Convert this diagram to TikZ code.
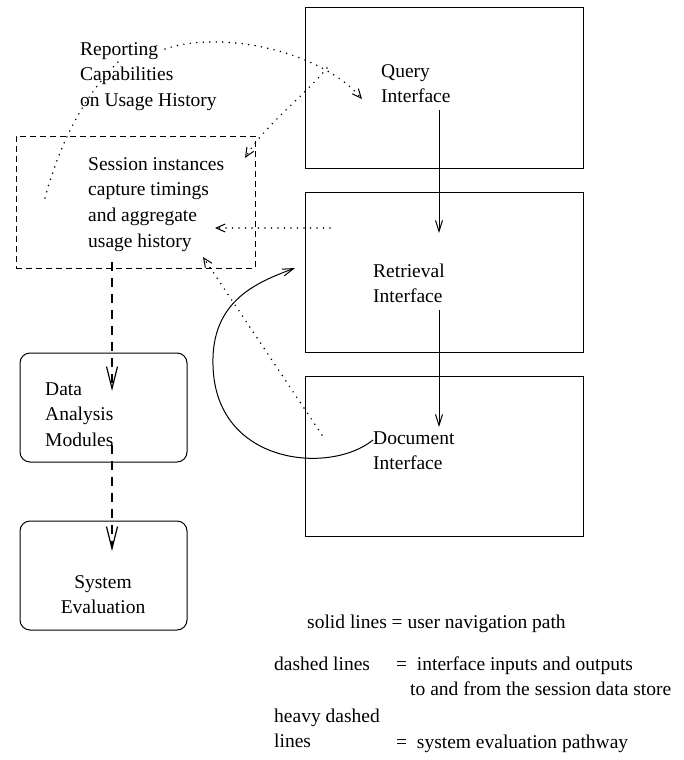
\documentclass[tikz,border=0pt]{standalone}
\usepackage{fontspec}
\setmainfont{Liberation Serif}
\usetikzlibrary{arrows.meta}
\newcommand{\fstrut}{\rule{0pt}{14pt}}
\tikzset{
  box/.style={draw, line width=1pt, inner sep=0pt},
  rbox/.style={draw, line width=1pt, rounded corners=10pt, inner sep=0pt},
  sbox/.style={draw, line width=1pt, dash pattern=on 6pt off 4pt, inner sep=0pt},
  txt/.style={inner sep=0pt, align=left, anchor=north west, font=\fontsize{19.5}{25.7}\selectfont},
  ctxt/.style={inner sep=0pt, align=center, anchor=north, font=\fontsize{19.5}{25.7}\selectfont},
  nav/.style={line width=1pt, -{Straight Barb[length=11pt,width=7pt,line width=1pt]}},
  dotline/.style={line width=1.7pt, dash pattern=on 0pt off 6.5pt, line cap=round},
  dotarrow/.style={dotline, -{Straight Barb[length=9pt,width=8pt,line width=1pt]}},
  heavy/.style={line width=1.4pt, dash pattern=on 9pt off 7pt, -{Straight Barb[length=22pt,width=11pt,line width=1.2pt]}}
}
\begin{document}
\begin{tikzpicture}[x=1pt,y=-1pt]
\useasboundingbox (0,0) rectangle (683,760);
% boxes
\node[box, minimum width=278pt, minimum height=160pt] (query) at (444,88) {};
\node[box, minimum width=278pt, minimum height=160pt] (retr) at (444,272) {};
\node[box, minimum width=278pt, minimum height=160pt] (doc) at (444,456) {};
\node[sbox, minimum width=239pt, minimum height=132pt] (session) at (135.5,202) {};
\node[rbox, minimum width=167pt, minimum height=109pt] (dam) at (103.5,407.5) {};
\node[rbox, minimum width=167pt, minimum height=109pt] (syseval) at (103.5,575.5) {};
% texts
\node[txt] (report) at (80,41) {\fstrut Reporting\\Capabilities\\on Usage History};
\node[txt] (stext) at (88,156) {\fstrut Session instances\\capture timings\\and aggregate\\usage history};
\node[txt] (qtext) at (381,63) {\fstrut Query\\Interface};
\node[txt] (rtext) at (373,263) {\fstrut Retrieval\\Interface};
\node[txt] (dtext) at (373,430) {\fstrut Document\\Interface};
\node[txt] (damtext) at (45,381) {\fstrut Data\\Analysis\\Modules};
\node[ctxt] (setext) at (103,574) {\fstrut System\\Evaluation};
% legend
\node[txt] (leg1) at (307,614) {\fstrut solid lines = user navigation path};
\node[txt] (leg2a) at (274,656) {\fstrut dashed lines};
\node[txt] (leg2b) at (396,656) {\fstrut =\ \ interface inputs and outputs};
\node[txt] (leg2c) at (410,681) {\fstrut to and from the session data store};
\node[txt] (leg3a) at (274,708) {\fstrut heavy dashed\\lines};
\node[txt] (leg3b) at (396,734) {\fstrut =\ \ system evaluation pathway};
% coordinates for free ends
\coordinate (n1s) at (439,110);
\coordinate (n1e) at (439,233);
\coordinate (n2s) at (439,310);
\coordinate (n2e) at (439,427);
\coordinate (cs) at (373,440);
\coordinate (cm) at (213,365);
\coordinate (ce) at (295,268);
\coordinate (rq) at (165,49);
\coordinate (qa) at (362,99);
\coordinate (qs) at (327,68);
\coordinate (sa) at (245,158);
\coordinate (rs1) at (45,198);
\coordinate (rs2) at (118,62);
\coordinate (rts) at (330,228);
\coordinate (rta) at (215,228);
\coordinate (dts) at (322,435);
\coordinate (dta) at (203,257);
\coordinate (h1s) at (112,262);
\coordinate (h1e) at (112,391);
\coordinate (h2s) at (112,445);
\coordinate (h2e) at (112,551);
% navigation (solid)
\draw[nav] (n1s) -- (n1e);
\draw[nav] (n2s) -- (n2e);
\draw[nav] (cs) .. controls (330,475) and (215,465) .. (cm) .. controls (211,300) and (258,282) .. (ce);
% interface inputs/outputs (dotted)
\draw[dotarrow] (rq) .. controls (220,30) and (320,50) .. (qa);
\draw[dotarrow] (qs) .. controls (300,100) and (265,125) .. (sa);
\draw[dotline] (rs1) .. controls (58,150) and (80,100) .. (rs2);
\draw[dotarrow] (rts) -- (rta);
\draw[dotarrow] (dts) -- (dta);
% system evaluation (heavy dashed)
\draw[heavy] (h1s) -- (h1e);
\draw[heavy] (h2s) -- (h2e);
\end{tikzpicture}
\end{document}
